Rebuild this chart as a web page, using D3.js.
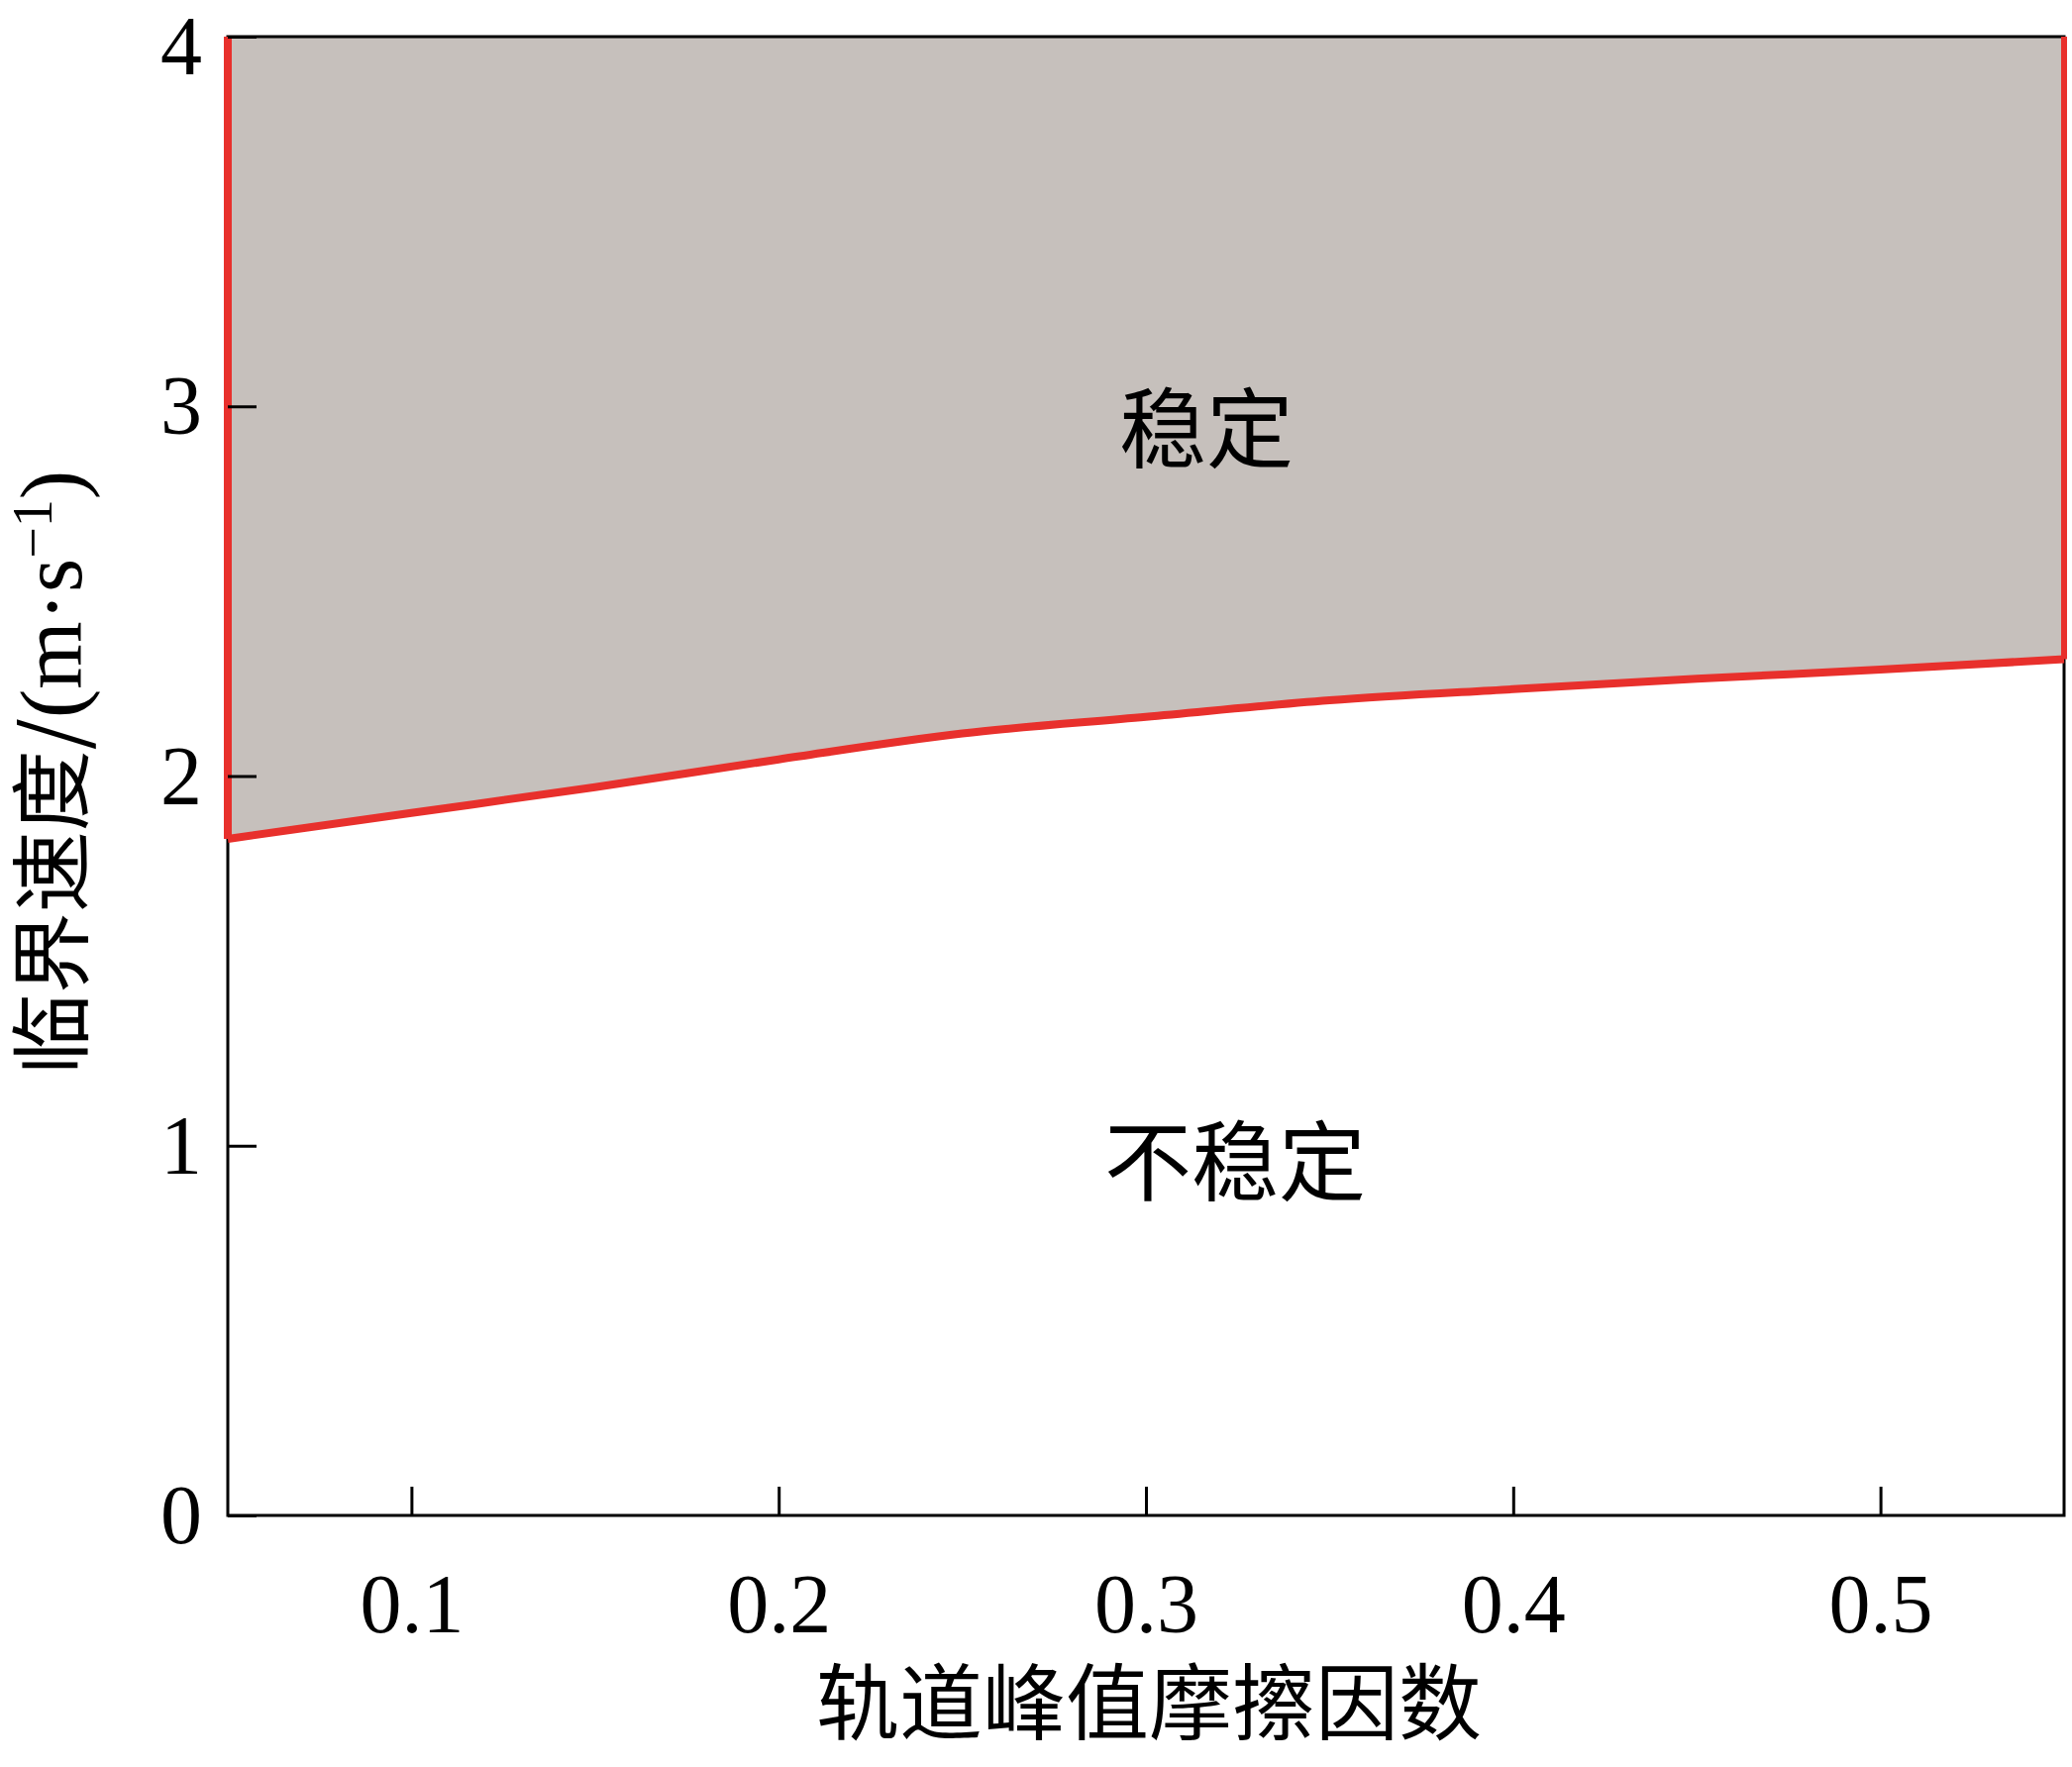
<!DOCTYPE html><html><head><meta charset="utf-8">
<script src="https://cdn.jsdelivr.net/npm/d3@7"></script>
<style>body{margin:0;background:#fff}</style></head><body>
<svg id="c" width="2092" height="1784"></svg>
<script>
const frictionX=[0.05,0.1,0.15,0.2,0.25,0.3,0.35,0.4,0.45,0.5,0.55];
const criticalV=[1.83,1.9,1.97,2.045,2.115,2.16,2.205,2.235,2.263,2.288,2.316];
const xTicks=[0.1,0.2,0.3,0.4,0.5];
const yTicks=[0,1,2,3,4];
const svg=d3.select("#c");
const L=230,R=2084,T=37,B=1530;
const x=d3.scaleLinear().domain([0.05,0.55]).range([L,R]);
const y=d3.scaleLinear().domain([0,4]).range([B,T]);
const pts=frictionX.map((d,i)=>[d,criticalV[i]]);
const area=d3.area().x(d=>x(d[0])).y0(y(4)).y1(d=>y(d[1])).curve(d3.curveMonotoneX);
svg.append("path").attr("d",area(pts)).attr("fill","#c6c0bc");
svg.append("rect").attr("x",L).attr("y",T).attr("width",R-L).attr("height",B-T).attr("fill","none").attr("stroke","#000").attr("stroke-width",3);
const line=d3.line().x(d=>x(d[0])).y(d=>y(d[1])).curve(d3.curveMonotoneX);
svg.append("path").attr("d",line(pts)).attr("fill","none").attr("stroke","#e8302c").attr("stroke-width",8);
const edge=d3.line().x(d=>x(d[0])).y(d=>y(d[1]));
svg.append("path").attr("d",edge([[0.05,4],pts[0]])).attr("stroke","#e8302c").attr("stroke-width",8);
svg.append("path").attr("d",edge([[0.55,4],pts[pts.length-1]])).attr("stroke","#e8302c").attr("stroke-width",6);
const fs="'Liberation Serif','Times New Roman',serif";
const xa=svg.append("g").attr("transform",`translate(0,${B})`).call(d3.axisBottom(x).tickValues(xTicks).tickSize(-29).tickPadding(58).tickFormat(d3.format(".1f")));
const ya=svg.append("g").attr("transform",`translate(${L},0)`).call(d3.axisLeft(y).tickValues(yTicks).tickSize(-29).tickPadding(26).tickFormat(d3.format("d")));
[xa,ya].forEach(a=>{a.select(".domain").remove();a.selectAll("line").attr("stroke","#000").attr("stroke-width",3);a.selectAll("text").attr("font-family",fs).attr("font-size",84).attr("fill","#000");});
ya.selectAll("text").attr("dy","0.33em");
ya.selectAll("text").filter(d=>d===4).attr("dy","0.45em");
const cj="'Noto Sans CJK SC',sans-serif";
svg.append("text").attr("x",1160).attr("y",1750).attr("text-anchor","middle").attr("font-family",cj).attr("font-size",84).text("轨道峰值摩擦因数");
svg.append("text").attr("transform","translate(82,780) rotate(-90)").attr("text-anchor","middle").attr("font-family",cj).attr("font-size",82)
 .html("临界速度/<tspan font-family=\"'Liberation Serif',serif\" font-size='88'>(m·s<tspan dy='-30' font-size='56'>−1</tspan><tspan dy='30'>)</tspan></tspan>");
svg.append("text").attr("x",1218).attr("y",465).attr("text-anchor","middle").attr("font-family",cj).attr("font-size",88).text("稳定");
svg.append("text").attr("x",1247).attr("y",1205).attr("text-anchor","middle").attr("font-family",cj).attr("font-size",88).text("不稳定");
</script></body></html>
